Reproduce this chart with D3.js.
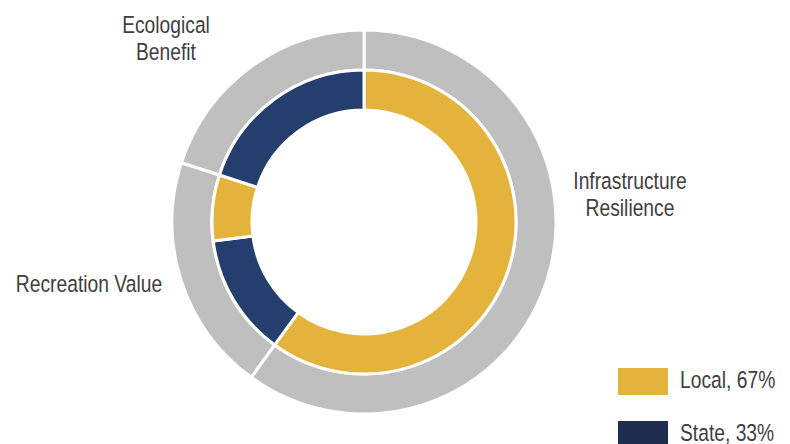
<!DOCTYPE html>
<html>
<head>
<meta charset="utf-8">
<script src="https://cdn.jsdelivr.net/npm/d3@7"></script>
<style>
  html, body { margin: 0; padding: 0; background: #ffffff; }
  svg { display: block; }
  text { font-family: "Liberation Sans", Arial, sans-serif; fill: #404040; }
</style>
</head>
<body>
<svg id="chart" width="790" height="444"></svg>
<script>
// ---- data ----
const categories = ["Infrastructure Resilience", "Recreation Value", "Ecological Benefit"];
const categoryShare = [60, 20, 20];
const stateShare = [0, 13, 20];
const localShare = [60, 7, 0];
const legendLabels = ["Local, 67%", "State, 33%"];

// ---- styling ----
const cx = 364, cy = 222;
const colorGray = "#BFBFBF";
const colorFor = { Local: "#E4B33B", State: "#243F6E" };
const legendColor = { "Local, 67%": "#E4B33B", "State, 33%": "#1E2C4F" };
const narrow = 0.82, fs = 23.5;

const svg = d3.select("#chart");
const g = svg.append("g").attr("transform", `translate(${cx},${cy})`);

const pie = d3.pie().sort(null).value(d => d.value).startAngle(0).endAngle(2 * Math.PI);

// outer ring
const outerData = categories.map((c, i) => ({ name: c, value: categoryShare[i] }));
const outerArc = d3.arc().innerRadius(152).outerRadius(192);
g.selectAll("path.outer")
  .data(pie(outerData))
  .join("path")
  .attr("class", "outer")
  .attr("d", outerArc)
  .attr("fill", colorGray)
  .attr("stroke", "#fff")
  .attr("stroke-width", 3);

// inner ring
const innerData = [];
categories.forEach((c, i) => {
  innerData.push({ cat: c, type: "State", value: stateShare[i] });
  innerData.push({ cat: c, type: "Local", value: localShare[i] });
});
const innerArc = d3.arc().innerRadius(112).outerRadius(152);
g.selectAll("path.inner")
  .data(pie(innerData).filter(d => d.data.value > 0))
  .join("path")
  .attr("class", "inner")
  .attr("d", innerArc)
  .attr("fill", d => colorFor[d.data.type])
  .attr("stroke", "#fff")
  .attr("stroke-width", 3);

// category labels
const labelPos = [
  { x: 630, y: 189, lines: ["Infrastructure", "Resilience"] },
  { x: 89, y: 292, lines: ["Recreation Value"] },
  { x: 166, y: 33, lines: ["Ecological", "Benefit"] }
];
categories.forEach((c, i) => {
  const p = labelPos[i];
  const t = svg.append("text")
    .attr("transform", `translate(${p.x},${p.y}) scale(${narrow},1)`)
    .attr("text-anchor", "middle")
    .attr("font-size", fs);
  p.lines.forEach((ln, k) => {
    t.append("tspan").attr("x", 0).attr("dy", k === 0 ? 0 : 27).text(ln);
  });
});

// legend
const legend = svg.append("g");
legendLabels.forEach((lab, i) => {
  const y0 = 368 + i * 53;
  legend.append("rect")
    .attr("x", 618).attr("y", y0)
    .attr("width", 50).attr("height", 27)
    .attr("fill", legendColor[lab]);
  legend.append("text")
    .attr("transform", `translate(680,${y0 + 20}) scale(${narrow},1)`)
    .attr("font-size", fs)
    .text(lab);
});
</script>
</body>
</html>
